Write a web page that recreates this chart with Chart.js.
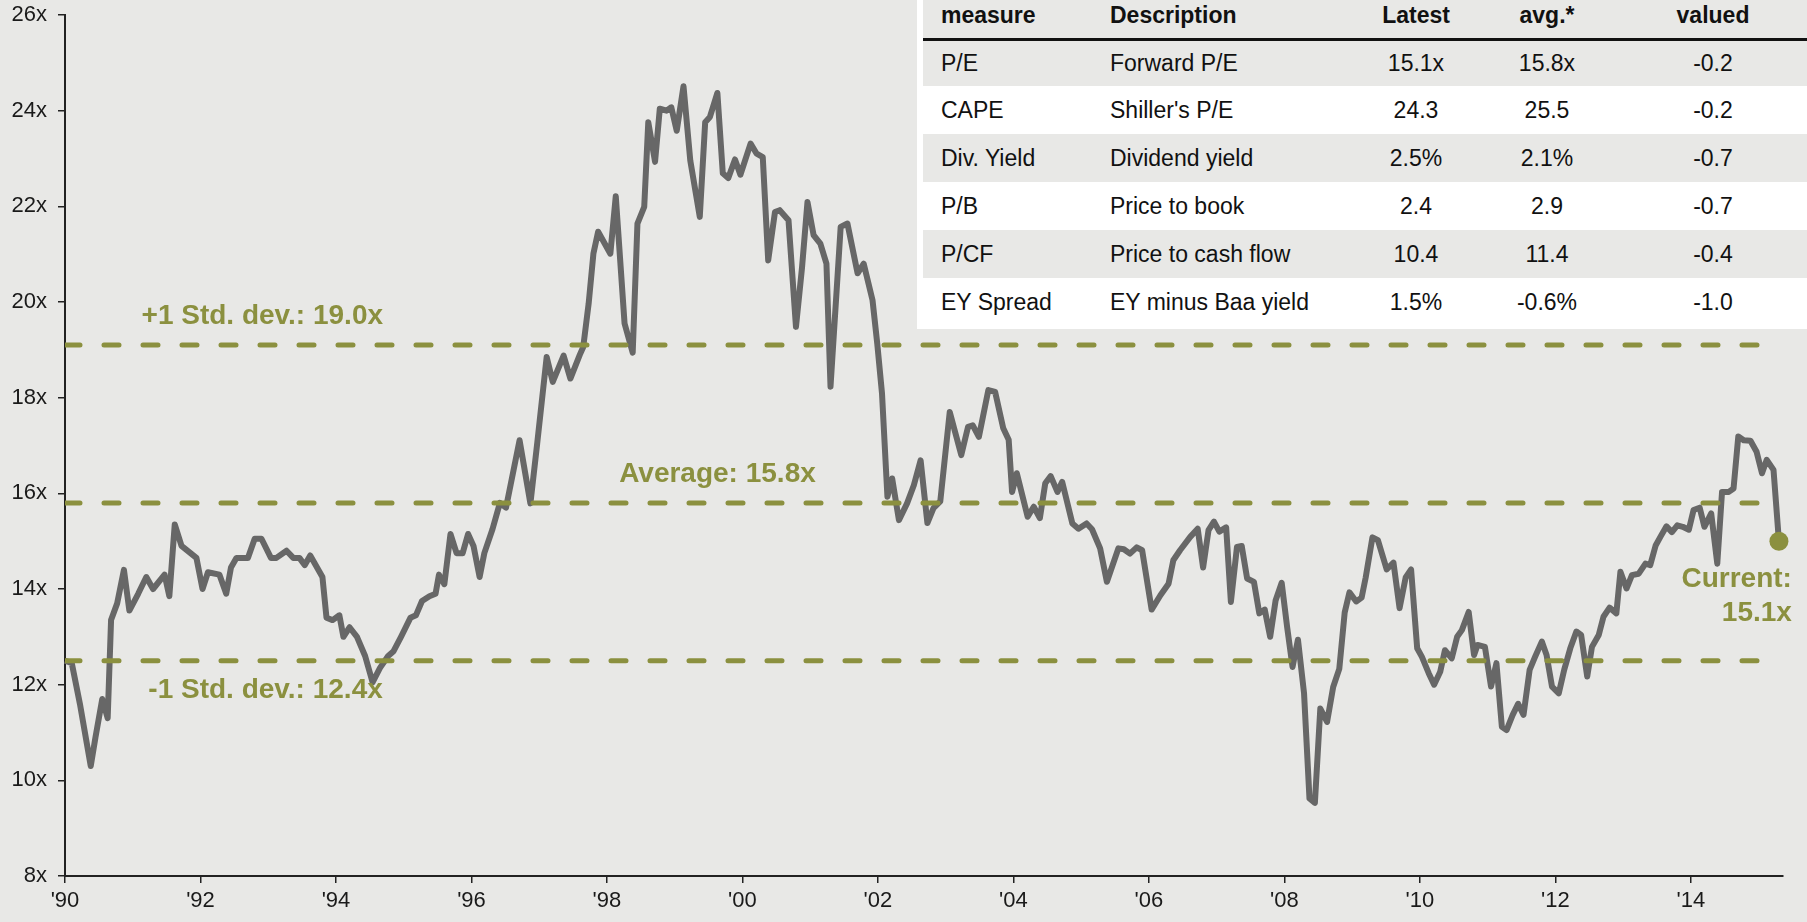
<!DOCTYPE html>
<html>
<head>
<meta charset="utf-8">
<title>Forward P/E</title>
<script src="https://cdn.jsdelivr.net/npm/chart.js@4.4.0/dist/chart.umd.min.js"></script>
<style>
  html, body { margin: 0; padding: 0; background: #e8e8e6; }
  #wrap { position: relative; width: 1807px; height: 922px; overflow: hidden; }
  #peChart { position: absolute; left: 0; top: 0; }
  #panel { position: absolute; left: 917px; top: 0; width: 890px; height: 329px; background: #fff;
           font-family: "Liberation Sans", Arial, sans-serif; font-size: 23px; color: #111; }
  #panel .row { position: absolute; left: 6px; right: 0; }
  #panel .row.shade { background: #e8e8e6; }
  #panel .rule { position: absolute; left: 6px; right: 0; top: 38px; height: 3px; background: #111; }
  #panel .cell { position: absolute; top: 0; white-space: nowrap; }
  #panel .head { font-weight: bold; }
</style>
</head>
<body>
<div id="wrap">
  <canvas id="peChart" width="1807" height="922"></canvas>
  <div id="panel"></div>
</div>
<script>
/* ---------- 데이터 ---------- */
// x: 연도(소수), y: forward P/E
const years = [
  1990.00,1990.10,1990.22,1990.38,1990.45,1990.55,1990.63,1990.68,1990.77,1990.87,1990.95,
  1991.08,1991.20,1991.30,1991.47,1991.54,1991.62,1991.72,1991.94,
  1992.03,1992.11,1992.28,1992.38,1992.45,1992.53,1992.70,1992.80,1992.90,
  1993.04,1993.12,1993.27,1993.37,1993.46,1993.54,1993.62,1993.80,1993.86,1993.95,
  1994.05,1994.11,1994.20,1994.31,1994.43,1994.54,1994.65,1994.77,1994.85,1994.96,
  1995.10,1995.18,1995.27,1995.38,1995.47,1995.52,1995.60,1995.69,1995.78,1995.87,1995.95,
  1996.03,1996.12,1996.19,1996.31,1996.42,1996.51,1996.71,1996.87,1996.97,
  1997.11,1997.20,1997.36,1997.46,1997.60,1997.65,1997.73,1997.80,1997.87,
  1998.05,1998.13,1998.26,1998.38,1998.45,1998.55,1998.61,1998.71,1998.78,1998.88,1998.95,
  1999.03,1999.13,1999.23,1999.37,1999.45,1999.52,1999.63,1999.71,1999.79,1999.89,1999.97,
  2000.12,2000.21,2000.30,2000.38,2000.48,2000.55,2000.68,2000.79,2000.88,2000.96,
  2001.05,2001.15,2001.24,2001.30,2001.45,2001.55,2001.70,2001.79,2001.92,2001.99,
  2002.06,2002.14,2002.21,2002.31,2002.43,2002.53,2002.63,2002.73,2002.82,2002.92,
  2003.06,2003.23,2003.33,2003.40,2003.49,2003.63,2003.73,2003.85,2003.93,2003.98,
  2004.05,2004.21,2004.30,2004.39,2004.47,2004.55,2004.65,2004.72,2004.87,2004.96,
  2005.08,2005.16,2005.28,2005.38,2005.55,2005.63,2005.72,2005.82,2005.90,
  2006.04,2006.17,2006.29,2006.36,2006.46,2006.61,2006.72,2006.80,2006.88,2006.96,
  2007.04,2007.14,2007.21,2007.30,2007.37,2007.45,2007.55,2007.63,2007.71,2007.79,2007.87,2007.96,
  2008.04,2008.12,2008.20,2008.29,2008.37,2008.45,2008.53,2008.63,2008.72,2008.81,2008.89,2008.96,
  2009.06,2009.14,2009.20,2009.30,2009.38,2009.51,2009.61,2009.70,2009.79,2009.87,2009.96,
  2010.03,2010.13,2010.21,2010.30,2010.37,2010.47,2010.55,2010.62,2010.72,2010.80,2010.85,2010.96,
  2011.05,2011.13,2011.21,2011.28,2011.37,2011.45,2011.53,2011.62,2011.70,2011.80,2011.87,2011.95,
  2012.05,2012.13,2012.22,2012.31,2012.38,2012.47,2012.54,2012.64,2012.71,2012.80,2012.90,2012.96,
  2013.05,2013.13,2013.23,2013.33,2013.40,2013.48,2013.55,2013.64,2013.72,2013.80,2013.88,2013.97,
  2014.04,2014.13,2014.20,2014.30,2014.39,2014.46,2014.56,2014.63,2014.70,2014.78,2014.88,2014.97,
  2015.05,2015.12,2015.22,2015.30
];
const forwardPE = [
  12.5,12.45,11.6,10.3,10.9,11.7,11.3,13.35,13.7,14.4,13.55,
  13.9,14.25,14.0,14.3,13.85,15.35,14.9,14.65,
  14.0,14.35,14.3,13.9,14.45,14.65,14.65,15.05,15.05,
  14.65,14.65,14.8,14.65,14.65,14.5,14.7,14.25,13.4,13.35,
  13.45,13.0,13.2,13.0,12.6,12.05,12.35,12.6,12.7,13.0,
  13.4,13.45,13.75,13.85,13.9,14.3,14.1,15.15,14.75,14.75,15.15,
  14.9,14.25,14.75,15.25,15.8,15.7,17.11,15.79,17.04,
  18.85,18.33,18.88,18.4,18.9,19.06,19.97,21.01,21.47,
  21.01,22.21,19.55,18.94,21.64,21.99,23.76,22.93,24.04,24.0,24.07,
  23.58,24.51,22.96,21.78,23.76,23.87,24.37,22.69,22.59,22.98,22.66,
  23.31,23.1,23.03,20.87,21.88,21.92,21.71,19.48,20.73,22.09,
  21.4,21.22,20.8,18.23,21.57,21.64,20.6,20.8,20.04,19.13,
  18.09,15.93,16.31,15.44,15.79,16.17,16.69,15.38,15.69,15.83,
  17.7,16.8,17.39,17.42,17.18,18.16,18.12,17.36,17.12,16.03,
  16.42,15.51,15.72,15.48,16.21,16.36,16.03,16.24,15.37,15.26,
  15.37,15.25,14.85,14.15,14.85,14.83,14.74,14.87,14.81,
  13.57,13.87,14.11,14.6,14.81,15.09,15.26,14.45,15.23,15.41,
  15.2,15.29,13.73,14.88,14.9,14.22,14.15,13.49,13.57,13.0,13.76,14.13,
  13.21,12.37,12.94,11.82,9.62,9.53,11.5,11.22,11.95,12.33,13.51,13.93,
  13.74,13.82,14.24,15.08,15.02,14.41,14.55,13.6,14.24,14.41,12.76,
  12.58,12.24,12.0,12.27,12.72,12.55,13.0,13.14,13.52,12.62,12.83,12.79,
  11.96,12.45,11.12,11.05,11.37,11.6,11.37,12.31,12.58,12.9,12.62,11.96,
  11.82,12.31,12.76,13.11,13.04,12.17,12.79,13.04,13.42,13.61,13.49,14.36,
  14.01,14.29,14.32,14.53,14.5,14.91,15.09,15.31,15.19,15.33,15.3,15.24,
  15.65,15.7,15.3,15.58,14.53,16.03,16.03,16.1,17.19,17.11,17.1,16.87,
  16.42,16.7,16.49,15.0
];

// 평균 / ±1 표준편차 기준선
const bandValues = [19.1, 15.8, 12.5];
const bandLabels = ['+1 Std. dev.: 19.0x', 'Average: 15.8x', '-1 Std. dev.: 12.4x'];
const bandYears  = [1990, 2015.0];
const currentLabel = ['Current:', '15.1x'];

// 축 눈금
const xTickYears  = [1990,1992,1994,1996,1998,2000,2002,2004,2006,2008,2010,2012,2014];
const xTickLabels = ["'90","'92","'94","'96","'98","'00","'02","'04","'06","'08","'10","'12","'14"];
const yTickValues = [8,10,12,14,16,18,20,22,24,26];
const yTickLabels = ['8x','10x','12x','14x','16x','18x','20x','22x','24x','26x'];

// 표
const tableHeaders = ['measure', 'Description', 'Latest', 'avg.*', 'valued'];
const tableMeasures = ['P/E', 'CAPE', 'Div. Yield', 'P/B', 'P/CF', 'EY Spread'];
const tableDescriptions = ['Forward P/E', "Shiller's P/E", 'Dividend yield', 'Price to book', 'Price to cash flow', 'EY minus Baa yield'];
const tableLatest = ['15.1x', '24.3', '2.5%', '2.4', '10.4', '1.5%'];
const tableAvg = ['15.8x', '25.5', '2.1%', '2.9', '11.4', '-0.6%'];
const tableValued = ['-0.2', '-0.2', '-0.7', '-0.7', '-0.4', '-1.0'];

/* ---------- 스타일 ---------- */
const OLIVE = '#8b903f';
const LINE_GRAY = '#676767';
const AXIS = '#222';
const FONT = '"Liberation Sans", Arial, sans-serif';

// 라벨 위치 (연도, 기준선 대비 px)
const bandLabelSpots = [
  { year: 1991.13, dy: -29 },
  { year: 1998.18, dy: -29 },
  { year: 1991.23, dy: 30 }
];

const labelPlugin = {
  id: 'bandLabels',
  afterDatasetsDraw(chart){
    const { ctx, scales: { x, y } } = chart;
    ctx.save();
    ctx.font = 'bold 28px ' + FONT;
    ctx.fillStyle = OLIVE;
    ctx.textBaseline = 'middle';
    ctx.textAlign = 'left';
    bandLabels.forEach((txt, i)=>{
      const s = bandLabelSpots[i];
      ctx.fillText(txt, x.getPixelForValue(s.year), y.getPixelForValue(bandValues[i]) + s.dy);
    });
    const n = years.length - 1;
    const px = x.getPixelForValue(years[n]) + 13;
    const py = y.getPixelForValue(forwardPE[n]);
    ctx.textAlign = 'right';
    ctx.fillText(currentLabel[0], px, py + 38);
    ctx.fillText(currentLabel[1], px, py + 72);
    ctx.restore();
  }
};

const n = years.length - 1;
const datasets = [
  { // 현재값 점
    data: [{ x: years[n], y: forwardPE[n] }],
    showLine: false, pointRadius: 9.5, pointBackgroundColor: OLIVE, pointBorderWidth: 0, clip: false
  },
  ...bandValues.map(v=>({
    data: bandYears.map(yr=>({ x: yr, y: v })),
    borderColor: OLIVE, borderWidth: 5, borderDash: [15, 24], borderCapStyle: 'round',
    pointRadius: 0
  })),
  {
    data: years.map((yr, i)=>({ x: yr, y: forwardPE[i] })),
    borderColor: LINE_GRAY, borderWidth: 6, borderJoinStyle: 'round', pointRadius: 0,
    tension: 0, clip: false
  }
];

new Chart(document.getElementById('peChart'), {
  type: 'line',
  data: { datasets },
  plugins: [labelPlugin],
  options: {
    responsive: false,
    animation: false,
    events: [],
    layout: { padding: { top: 15, right: 24, left: 0, bottom: 0 } },
    plugins: { legend: { display: false }, tooltip: { enabled: false } },
    scales: {
      x: {
        type: 'linear', min: 1990, max: 2015.36,
        afterBuildTicks: axis=>{ axis.ticks = xTickYears.map(v=>({ value: v })); },
        afterFit: scale=>{ scale.height = 46; },
        ticks: {
          autoSkip: false, maxRotation: 0, padding: 5, color: '#1a1a1a',
          font: { family: FONT, size: 22 },
          callback: v=>xTickLabels[xTickYears.indexOf(v)] ?? ''
        },
        grid: { drawOnChartArea: false, drawTicks: true, tickLength: 7, color: AXIS, lineWidth: 1.5 },
        border: { display: true, color: AXIS, width: 2 }
      },
      y: {
        min: 8, max: 26,
        afterBuildTicks: axis=>{ axis.ticks = yTickValues.map(v=>({ value: v })); },
        afterFit: scale=>{ scale.width = 65; scale.paddingTop = 0; scale.paddingBottom = 0; },
        ticks: {
          padding: 11, color: '#1a1a1a',
          font: { family: FONT, size: 22 },
          callback: v=>yTickLabels[yTickValues.indexOf(v)] ?? ''
        },
        grid: { drawOnChartArea: false, drawTicks: true, tickLength: 7, color: AXIS, lineWidth: 1.5 },
        border: { display: true, color: AXIS, width: 2 }
      }
    }
  }
});

/* ---------- 표 ---------- */
(function buildTable(){
  const panel = document.getElementById('panel');
  // 열: [left, width, align]
  const cols = [[24, 160, 'left'], [193, 230, 'left'], [439, 120, 'center'], [570, 120, 'center'], [736, 120, 'center']];
  const cellHtml = (vals, cls)=>vals.map((t, i)=>
    `<span class="cell ${cls}" style="left:${cols[i][0] - 6}px;width:${cols[i][1]}px;text-align:${cols[i][2]}">${t}</span>`).join('');

  let html = `<div class="row shade" style="top:0;height:38px;line-height:30px">${cellHtml(tableHeaders, 'head')}</div>`;
  html += '<div class="rule"></div>';
  let top = 41;
  tableMeasures.forEach((m, r)=>{
    const h = r === 0 ? 45 : 48;
    const vals = [m, tableDescriptions[r], tableLatest[r], tableAvg[r], tableValued[r]];
    html += `<div class="row${r % 2 === 0 ? ' shade' : ''}" style="top:${top}px;height:${h}px;line-height:${h}px">${cellHtml(vals, '')}</div>`;
    top += h;
  });
  panel.innerHTML = html;
})();
</script>
</body>
</html>
